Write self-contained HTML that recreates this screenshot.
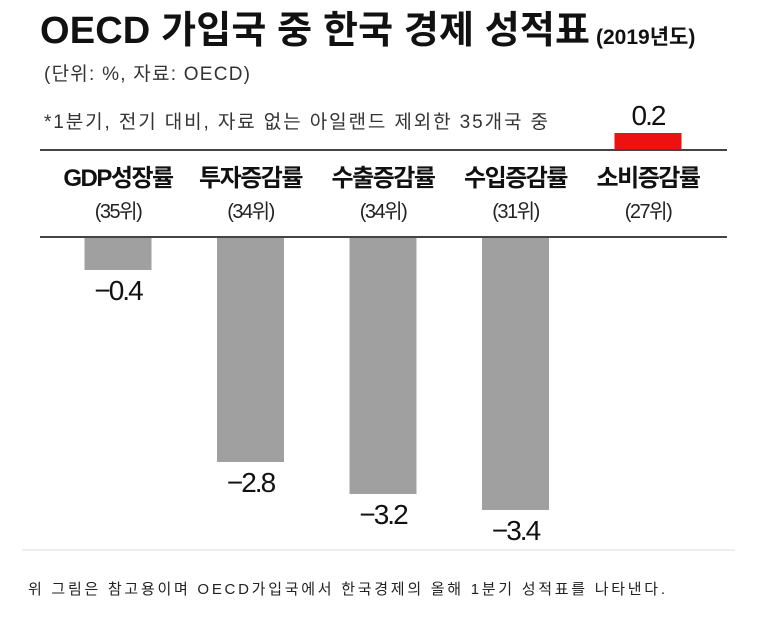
<!DOCTYPE html>
<html><head><meta charset="utf-8"><style>
body{margin:0;background:#fff;width:763px;height:618px;overflow:hidden;font-family:"Liberation Sans","Noto Sans CJK KR",sans-serif}
</style></head><body>
<svg width="763" height="618" font-family="Liberation Sans, Noto Sans CJK KR, sans-serif">
<text x="40" y="43" font-size="38" font-weight="bold" fill="#111" textLength="550" lengthAdjust="spacing">OECD 가입국 중 한국 경제 성적표</text>
<text x="596" y="44" font-size="21" font-weight="bold" fill="#111">(2019년도)</text>
<text x="44" y="80" font-size="19" fill="#333" textLength="206" lengthAdjust="spacing">(단위: %, 자료: OECD)</text>
<text x="44" y="128" font-size="19" fill="#333" textLength="504" lengthAdjust="spacing">*1분기, 전기 대비, 자료 없는 아일랜드 제외한 35개국 중</text>
<line x1="40" y1="150" x2="727" y2="150" stroke="#444" stroke-width="2"/>
<line x1="40" y1="237" x2="727" y2="237" stroke="#444" stroke-width="2"/>
<line x1="22" y1="550" x2="735" y2="550" stroke="#ddd" stroke-width="1"/>
<g id="g"></g>
<text x="28" y="594" font-size="15" fill="#222" textLength="637" lengthAdjust="spacing">위 그림은 참고용이며 OECD가입국에서 한국경제의 올해 1분기 성적표를 나타낸다.</text>
</svg>
<script>
const categories=["GDP성장률","투자증감률","수출증감률","수입증감률","소비증감률"];
const ranks=["(35위)","(34위)","(34위)","(31위)","(27위)"];
const values=[-0.4,-2.8,-3.2,-3.4,0.2];
const labels=["−0.4","−2.8","−3.2","−3.4","0.2"];
const g=document.getElementById('g');
const NS="http://www.w3.org/2000/svg";
const xC=i=>118+i*132.5;
const scale=80, base=238, posBase=149;
const bw=67;
function mk(t,a){const e=document.createElementNS(NS,t);for(const k in a)e.setAttribute(k,a[k]);g.appendChild(e);return e;}
values.forEach((v,i)=>{
  const x=xC(i);
  const c=mk('text',{x:x,y:186,'font-size':24,'font-weight':'bold','text-anchor':'middle',fill:'#111','letter-spacing':'-1.5'});c.textContent=categories[i];
  
  
  const r=mk('text',{x:x,y:218,'font-size':20,'text-anchor':'middle',fill:'#222','letter-spacing':'-1.5'});r.textContent=ranks[i];
  
  
  let b,ly;
  if(v<0){const h=-v*scale;b=mk('rect',{x:x-bw/2,y:base,width:bw,height:h,fill:'#a0a0a0'});ly=base+h+30;}
  else{const h=v*scale;b=mk('rect',{x:x-bw/2,y:posBase-h,width:bw,height:h,fill:'#ee1111'});ly=posBase-h-8;}
  
  
  const t=mk('text',{x:x,y:ly,'font-size':28,'text-anchor':'middle',fill:'#111','letter-spacing':'-2'});t.textContent=labels[i];
  
  
});
</script>
</body></html>
